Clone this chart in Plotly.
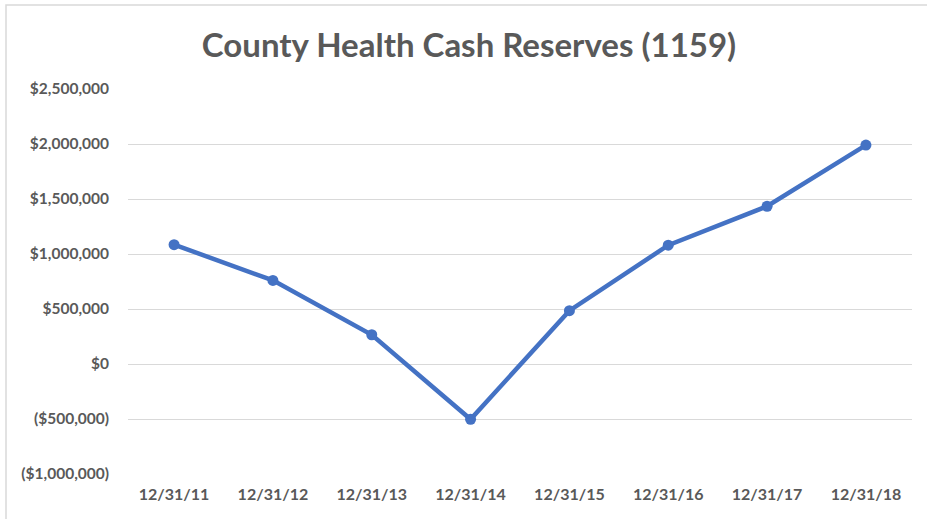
import plotly.graph_objects as go

dates = ["12/31/11", "12/31/12", "12/31/13", "12/31/14", "12/31/15", "12/31/16", "12/31/17", "12/31/18"]
reserves = [1085000, 760000, 266000, -503000, 485000, 1080000, 1434000, 1990000]

tick_vals = [-1000000, -500000, 0, 500000, 1000000, 1500000, 2000000, 2500000]
tick_text = ["($1,000,000)", "($500,000)", "$0", "$500,000", "$1,000,000", "$1,500,000", "$2,000,000", "$2,500,000"]

TEXT = "#595959"
FONT = "Lato"

fig = go.Figure()
fig.add_trace(go.Scatter(
    x=dates, y=reserves, mode="lines+markers",
    line=dict(color="#4472C4", width=4.5),
    marker=dict(color="#4472C4", size=11, line=dict(width=0)),
    showlegend=False,
))

W, H = 927, 519
L, R, T, B = 128, 15, 89, 45

fig.update_layout(
    width=W, height=H,
    margin=dict(l=L, r=R, t=T, b=B),
    paper_bgcolor="white", plot_bgcolor="white",
    title=dict(
        text="County Health Cash Reserves (1159)",
        font=dict(family=FONT, size=33, color=TEXT, weight="bold"),
        x=469 / W, xref="container", xanchor="center",
        y=1 - 45 / H, yref="container", yanchor="middle",
    ),
    xaxis=dict(
        type="category", showgrid=False, zeroline=False, showline=False,
        tickfont=dict(family=FONT, size=16, color=TEXT, weight="bold"),
        ticks="", ticklabelstandoff=9,
    ),
    yaxis=dict(
        range=[-1000000, 2500000], tickvals=tick_vals, ticktext=tick_text,
        showgrid=True, gridcolor="#D9D9D9", gridwidth=1,
        zeroline=False, showline=False,
        tickfont=dict(family=FONT, size=15.5, color=TEXT, weight="bold"),
        ticks="", ticklabelstandoff=18,
    ),
)

pw = W - L - R
ph = H - T - B
def px(x):
    return (x - L) / pw
def py(y):
    return (H - B - y) / ph

fig.add_shape(type="rect", xref="paper", yref="paper",
              x0=px(6), x1=px(960), y0=py(560), y1=py(5),
              line=dict(color="#D9D9D9", width=1.5), fillcolor="rgba(0,0,0,0)", layer="below")

fig.write_html(
    "out.html",
    config={"displayModeBar": False},
    post_script="document.body.style.margin='0';document.body.style.overflow='hidden';",
)
